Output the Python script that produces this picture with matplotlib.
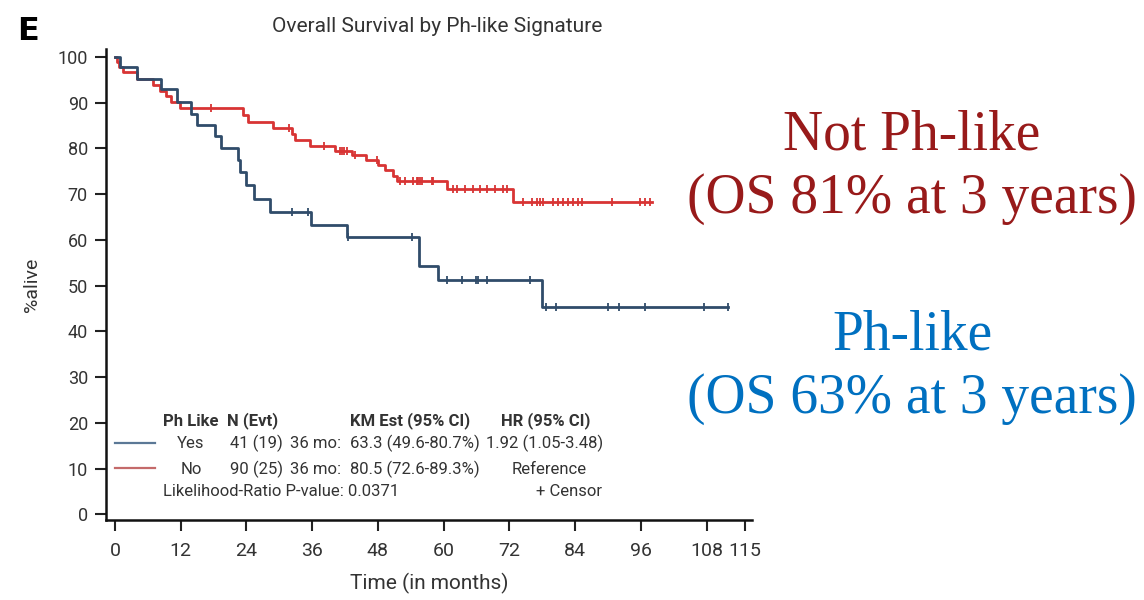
import numpy as np
import matplotlib.pyplot as plt
from matplotlib.lines import Line2D

SANS = ["Roboto", "DejaVu Sans"]
SERIF = ["Liberation Serif", "DejaVu Serif"]
plt.rcParams["font.family"] = SANS

# Ph-like (Yes) 组：事件时间（月）与 KM 生存率（%）
yes_time = [0, 0.9, 4.0, 8.4, 11.3, 13.8, 14.9, 18.3, 19.3, 22.5, 22.8, 23.9,
            25.4, 28.3, 35.8, 42.3, 55.5, 59.0, 77.9]
yes_surv = [100, 97.8, 95.2, 93.0, 90.2, 87.6, 85.1, 82.6, 80.0, 77.4, 74.8,
            72.0, 69.0, 66.1, 63.3, 60.7, 54.2, 51.1, 45.2]
yes_censor = [32.3, 35.3, 42.5, 54.3, 60.7, 63.4, 65.9, 66.3, 68.0, 75.8, 78.7,
              80.6, 90.0, 92.1, 96.7, 107.6, 112.0]
yes_end = 112.0

# 非 Ph-like (No) 组
no_time = [0, 0.3, 0.8, 1.4, 4.0, 7.0, 8.2, 9.3, 10.3, 11.8, 23.4, 24.3, 28.9,
           32.3, 32.9, 35.6, 40.2, 43.2, 45.9, 48.1, 49.3, 50.8, 51.4, 60.6, 72.7]
no_surv = [100, 98.9, 97.8, 96.6, 95.2, 93.8, 92.6, 91.4, 90.2, 88.9, 87.3,
           85.8, 84.4, 83.1, 81.8, 80.5, 79.4, 78.5, 77.4, 76.3, 75.2, 74.0,
           72.9, 71.1, 68.2]
no_censor = [17.5, 31.8, 38.2, 41.1, 41.5, 41.9, 42.3, 43.8, 47.8, 52.0, 52.9,
             54.5, 55.1, 55.4, 55.7, 56.0, 57.8, 58.1, 61.8, 62.4, 63.9, 65.4,
             66.6, 67.9, 69.4, 70.9, 71.5, 74.5, 76.1, 77.0, 77.6, 78.2, 80.0,
             80.9, 81.8, 82.7, 83.6, 84.6, 85.2, 90.7, 95.8, 96.8, 97.7]
no_end = 98.0

x_ticks = [0, 12, 24, 36, 48, 60, 72, 84, 96, 108, 115]
y_ticks = list(range(0, 101, 10))

BLUE = "#304c6a"
RED = "#d83434"


def surv_at(times, surv, t):
    idx = np.searchsorted(times, t, side="right") - 1
    return np.asarray(surv)[idx]


def draw_km(ax, times, surv, censor, end, color):
    t = np.append(times, end)
    s = np.append(surv, surv[-1])
    ax.step(t, s, where="post", color=color, lw=2.0, zorder=3)
    ax.plot(censor, surv_at(times, surv, censor), ls="none", marker="|",
            ms=6, mew=1.3, color=color, zorder=4)


fig = plt.figure(figsize=(11.44, 6), dpi=100)
ax = fig.add_axes([106 / 1144, 80 / 600, 646 / 1144, 471 / 600])

draw_km(ax, no_time, no_surv, no_censor, no_end, RED)
draw_km(ax, yes_time, yes_surv, yes_censor, yes_end, BLUE)

ax.set_xlim(-1.64, 116.3)
ax.set_ylim(-1.25, 101.7)
ax.set_xticks(x_ticks)
ax.set_yticks(y_ticks)
ax.tick_params(axis="both", direction="out", length=8, width=1.5,
               colors="#222222", labelcolor="#333333")
ax.tick_params(axis="x", labelsize=14, pad=8)
ax.tick_params(axis="y", labelsize=13, pad=5)
for side in ["top", "right"]:
    ax.spines[side].set_visible(False)
for side in ["left", "bottom"]:
    ax.spines[side].set_linewidth(1.8)
    ax.spines[side].set_color("#111111")

ax.set_xlabel("Time (in months)", fontsize=15, color="#333333", labelpad=9)
ax.set_ylabel("%alive", fontsize=14, color="#333333", labelpad=12)

fig.text(437 / 1144, 1 - 27 / 600, "Overall Survival by Ph-like Signature",
         ha="center", va="center", fontsize=15, color="#333333")
fig.text(28 / 1144, 1 - 31 / 600, "E", ha="center", va="center",
         fontsize=23, fontweight="bold", family="DejaVu Sans")


def px(x, y):
    return x / 1144, 1 - y / 600


# 图例表格
fs = 12
hdr = dict(fontsize=fs, fontweight="bold", color="#333333", va="center")
txt = dict(fontsize=fs, color="#333333", va="center")
fig.text(*px(163, 421), "Ph Like", ha="left", **hdr)
fig.text(*px(227, 421), "N (Evt)", ha="left", **hdr)
fig.text(*px(350, 421), "KM Est (95% CI)", ha="left", **hdr)
fig.text(*px(546, 421), "HR (95% CI)", ha="center", **hdr)

fig.add_artist(Line2D([115 / 1144, 155 / 1144], [1 - 443 / 600] * 2,
                      transform=fig.transFigure, color="#5b7896", lw=1.6))
fig.add_artist(Line2D([115 / 1144, 155 / 1144], [1 - 468 / 600] * 2,
                      transform=fig.transFigure, color="#c46a6a", lw=1.6))

fig.text(*px(191, 443), "Yes", ha="center", **txt)
fig.text(*px(230, 443), "41 (19)", ha="left", **txt)
fig.text(*px(290, 443), "36 mo:", ha="left", **txt)
fig.text(*px(350, 443), "63.3 (49.6-80.7%)", ha="left", **txt)
fig.text(*px(545, 443), "1.92 (1.05-3.48)", ha="center", **txt)

fig.text(*px(191, 469), "No", ha="center", **txt)
fig.text(*px(230, 469), "90 (25)", ha="left", **txt)
fig.text(*px(290, 469), "36 mo:", ha="left", **txt)
fig.text(*px(350, 469), "80.5 (72.6-89.3%)", ha="left", **txt)
fig.text(*px(549, 469), "Reference", ha="center", **txt)

fig.text(*px(163, 492), "Likelihood-Ratio P-value: 0.0371", ha="left", **txt)
fig.text(*px(602, 492), "+ Censor", ha="right", **txt)

# 右侧注释
ann_red = "#981a1a"
ann_blue = "#0070c0"
fig.text(*px(912, 150), "Not Ph-like", ha="center", va="baseline",
         fontsize=40, color=ann_red, family=SERIF)
fig.text(*px(912, 213), "(OS 81% at 3 years)", ha="center", va="baseline",
         fontsize=40, color=ann_red, family=SERIF)
fig.text(*px(912, 350), "Ph-like", ha="center", va="baseline",
         fontsize=40, color=ann_blue, family=SERIF)
fig.text(*px(912, 413), "(OS 63% at 3 years)", ha="center", va="baseline",
         fontsize=40, color=ann_blue, family=SERIF)

fig.savefig("out.png", dpi=100)
